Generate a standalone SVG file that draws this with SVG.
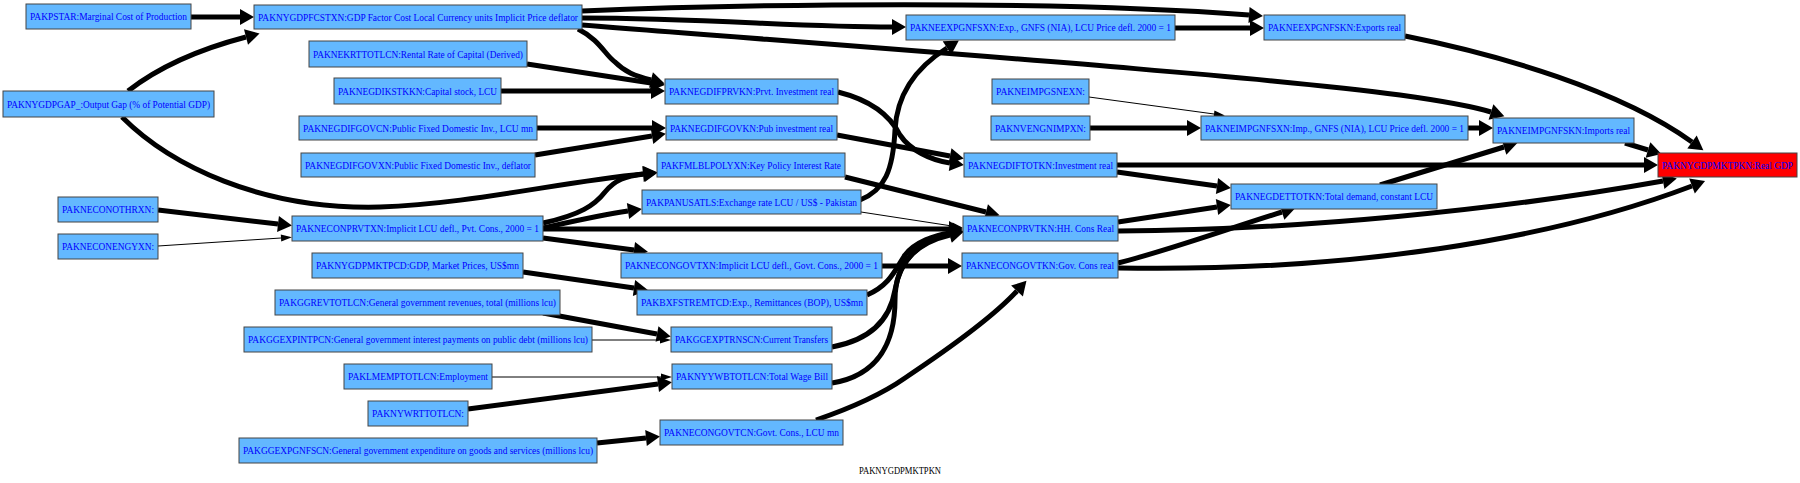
<svg xmlns="http://www.w3.org/2000/svg" width="1800" height="483" viewBox="0 0 1800 483">
<style>
.n rect{fill:#63b8ff;stroke:#444;stroke-width:1}
.r rect{fill:#ff0000;stroke:#444;stroke-width:1}
.n text,.r text{font-family:"Liberation Serif",serif;font-size:10px;fill:#0000ff;text-anchor:middle}
.e path{fill:none;stroke:#000}
.k{stroke-width:5;marker-end:url(#ak)}
.h{stroke-width:1;marker-end:url(#ah)}
.lbl{font-family:"Liberation Serif",serif;font-size:10px;fill:#000;text-anchor:middle}
</style>
<defs>
<marker id="ak" markerUnits="userSpaceOnUse" markerWidth="15" markerHeight="17" refX="0" refY="8" orient="auto" overflow="visible"><path d="M0,0 L14,8 L0,16 z" fill="#000"/></marker>
<marker id="ah" markerUnits="userSpaceOnUse" markerWidth="12" markerHeight="8" refX="0" refY="3.5" orient="auto" overflow="visible"><path d="M0,0 L11,3.5 L0,7 z" fill="#000"/></marker>
</defs>
<rect width="1800" height="483" fill="#fff"/>
<g id="edges" class="e">
<path class="k" d="M191,17 L240,17"/>
<path class="k" d="M128,91 C160,66 200,49 246,37"/>
<path class="k" d="M122,117 C170,165 260,210 380,207 C470,204 560,182 643,174"/>
<path class="k" d="M582,11 C750,4 1050,0 1249,15"/>
<path class="k" d="M582,18 C700,18 800,27 892,27"/>
<path class="k" d="M582,25 C900,50 1250,75 1400,95 C1450,102 1475,107 1491,112"/>
<path class="k" d="M578,29 C600,40 605,55 615,62 C625,72 635,76 651,80"/>
<path class="k" d="M527,64 L651,83"/>
<path class="k" d="M501,91 L651,91"/>
<path class="k" d="M537,128 L652,128"/>
<path class="k" d="M535,155 L652,136"/>
<path class="k" d="M838,92 C870,100 890,115 900,135 C910,150 930,160 950,163"/>
<path class="k" d="M837,135 L950,156"/>
<path class="k" d="M1117,165 L1644,165"/>
<path class="k" d="M1117,172 L1217,186"/>
<path class="k" d="M1175,28 L1250,28"/>
<path class="k" d="M1405,36 C1500,55 1620,90 1692,142"/>
<path class="h" d="M1089,97 L1214,114"/>
<path class="k" d="M1090,128 L1187,128"/>
<path class="k" d="M1468,128 L1479,128"/>
<path class="k" d="M1625,143 L1648,150"/>
<path class="k" d="M1380,185 L1504,147"/>
<path class="k" d="M158,210 L278,224"/>
<path class="h" d="M158,246 L281,238"/>
<path class="k" d="M543,223 C580,215 595,205 605,192 C615,180 625,176 644,174"/>
<path class="k" d="M543,228 C570,222 600,215 628,211"/>
<path class="k" d="M543,229 L949,229"/>
<path class="k" d="M543,238 L634,250"/>
<path class="k" d="M845,177 L986,212"/>
<path class="h" d="M861,212 L952,226"/>
<path class="k" d="M860,200 C885,190 893,170 895,130 C897,90 920,65 947,48"/>
<path class="k" d="M1118,222 L1217,207"/>
<path class="k" d="M1118,231 C1300,230 1500,210 1663,181"/>
<path class="k" d="M1118,263 C1170,250 1230,228 1282,212"/>
<path class="k" d="M1118,268 C1350,272 1550,240 1692,186"/>
<path class="k" d="M882,266 L948,266"/>
<path class="k" d="M523,272 L634,288"/>
<path class="k" d="M867,295 C890,285 895,270 905,255 C915,242 935,235 950,233"/>
<path class="k" d="M543,313 L657,334"/>
<path class="h" d="M592,340 L660,340"/>
<path class="k" d="M832,347 C870,340 890,320 895,290 C900,260 920,240 950,234"/>
<path class="h" d="M492,377 L661,377"/>
<path class="k" d="M468,409 L658,384"/>
<path class="k" d="M832,383 C880,375 895,340 895,300 C895,260 920,242 950,235"/>
<path class="k" d="M597,443 L646,438"/>
<path class="k" d="M816,420 C860,405 885,392 905,378 C950,348 995,315 1017,291"/>
</g>
<g id="PAKPSTAR" class="n"><rect x="26" y="4" width="165" height="25"/><text x="108.5" y="20" textLength="157" lengthAdjust="spacingAndGlyphs">PAKPSTAR:Marginal Cost of Production</text></g>
<g id="PAKNYGDPFCSTXN" class="n"><rect x="254" y="5" width="328" height="24"/><text x="418" y="20.5" textLength="320" lengthAdjust="spacingAndGlyphs">PAKNYGDPFCSTXN:GDP Factor Cost Local Currency units Implicit Price deflator</text></g>
<g id="PAKNEKRTTOTLCN" class="n"><rect x="309" y="41" width="218" height="26"/><text x="418" y="57.5" textLength="210" lengthAdjust="spacingAndGlyphs">PAKNEKRTTOTLCN:Rental Rate of Capital (Derived)</text></g>
<g id="PAKNEGDIKSTKKN" class="n"><rect x="334" y="78" width="167" height="26"/><text x="417.5" y="94.5" textLength="159" lengthAdjust="spacingAndGlyphs">PAKNEGDIKSTKKN:Capital stock, LCU</text></g>
<g id="PAKNYGDPGAP_" class="n"><rect x="3" y="91" width="211" height="26"/><text x="108.5" y="107.5" textLength="203" lengthAdjust="spacingAndGlyphs">PAKNYGDPGAP_:Output Gap (% of Potential GDP)</text></g>
<g id="PAKNEGDIFGOVCN" class="n"><rect x="299" y="116" width="238" height="24"/><text x="418" y="131.5" textLength="230" lengthAdjust="spacingAndGlyphs">PAKNEGDIFGOVCN:Public Fixed Domestic Inv., LCU mn</text></g>
<g id="PAKNEGDIFGOVXN" class="n"><rect x="301" y="153" width="234" height="24"/><text x="418" y="168.5" textLength="226" lengthAdjust="spacingAndGlyphs">PAKNEGDIFGOVXN:Public Fixed Domestic Inv., deflator</text></g>
<g id="PAKNECONOTHRXN" class="n"><rect x="58" y="197" width="100" height="25"/><text x="108" y="213" textLength="92" lengthAdjust="spacingAndGlyphs">PAKNECONOTHRXN:</text></g>
<g id="PAKNECONPRVTXN" class="n"><rect x="292" y="216" width="251" height="25"/><text x="417.5" y="232" textLength="243" lengthAdjust="spacingAndGlyphs">PAKNECONPRVTXN:Implicit LCU defl., Pvt. Cons., 2000 = 1</text></g>
<g id="PAKNECONENGYXN" class="n"><rect x="58" y="234" width="100" height="25"/><text x="108" y="250" textLength="92" lengthAdjust="spacingAndGlyphs">PAKNECONENGYXN:</text></g>
<g id="PAKNYGDPMKTPCD" class="n"><rect x="312" y="253" width="211" height="25"/><text x="417.5" y="269" textLength="203" lengthAdjust="spacingAndGlyphs">PAKNYGDPMKTPCD:GDP, Market Prices, US$mn</text></g>
<g id="PAKGGREVTOTLCN" class="n"><rect x="275" y="290" width="285" height="25"/><text x="417.5" y="306" textLength="277" lengthAdjust="spacingAndGlyphs">PAKGGREVTOTLCN:General government revenues, total (millions lcu)</text></g>
<g id="PAKGGEXPINTPCN" class="n"><rect x="244" y="327" width="348" height="25"/><text x="418" y="343" textLength="340" lengthAdjust="spacingAndGlyphs">PAKGGEXPINTPCN:General government interest payments on public debt (millions lcu)</text></g>
<g id="PAKLMEMPTOTLCN" class="n"><rect x="344" y="364" width="148" height="25"/><text x="418" y="380" textLength="140" lengthAdjust="spacingAndGlyphs">PAKLMEMPTOTLCN:Employment</text></g>
<g id="PAKNYWRTTOTLCN" class="n"><rect x="368" y="401" width="100" height="25"/><text x="418" y="417" textLength="92" lengthAdjust="spacingAndGlyphs">PAKNYWRTTOTLCN:</text></g>
<g id="PAKGGEXPGNFSCN" class="n"><rect x="239" y="438" width="358" height="25"/><text x="418" y="454" textLength="350" lengthAdjust="spacingAndGlyphs">PAKGGEXPGNFSCN:General government expenditure on goods and services (millions lcu)</text></g>
<g id="PAKNEEXPGNFSXN" class="n"><rect x="906" y="15" width="269" height="25"/><text x="1040.5" y="31" textLength="261" lengthAdjust="spacingAndGlyphs">PAKNEEXPGNFSXN:Exp., GNFS (NIA), LCU Price defl. 2000 = 1</text></g>
<g id="PAKNEGDIFPRVKN" class="n"><rect x="665" y="79" width="173" height="25"/><text x="751.5" y="95" textLength="165" lengthAdjust="spacingAndGlyphs">PAKNEGDIFPRVKN:Prvt. Investment real</text></g>
<g id="PAKNEIMPGSNEXN" class="n"><rect x="992" y="79" width="97" height="25"/><text x="1040.5" y="95" textLength="89" lengthAdjust="spacingAndGlyphs">PAKNEIMPGSNEXN:</text></g>
<g id="PAKNEGDIFGOVKN" class="n"><rect x="666" y="116" width="171" height="24"/><text x="751.5" y="131.5" textLength="163" lengthAdjust="spacingAndGlyphs">PAKNEGDIFGOVKN:Pub investment real</text></g>
<g id="PAKNVENGNIMPXN" class="n"><rect x="991" y="116" width="99" height="24"/><text x="1040.5" y="131.5" textLength="91" lengthAdjust="spacingAndGlyphs">PAKNVENGNIMPXN:</text></g>
<g id="PAKFMLBLPOLYXN" class="n"><rect x="657" y="153" width="188" height="24"/><text x="751" y="168.5" textLength="180" lengthAdjust="spacingAndGlyphs">PAKFMLBLPOLYXN:Key Policy Interest Rate</text></g>
<g id="PAKPANUSATLS" class="n"><rect x="642" y="190" width="219" height="24"/><text x="751.5" y="205.5" textLength="211" lengthAdjust="spacingAndGlyphs">PAKPANUSATLS:Exchange rate LCU / US$ - Pakistan</text></g>
<g id="PAKNEGDIFTOTKN" class="n"><rect x="964" y="153" width="153" height="24"/><text x="1040.5" y="168.5" textLength="145" lengthAdjust="spacingAndGlyphs">PAKNEGDIFTOTKN:Investment real</text></g>
<g id="PAKNECONPRVTKN" class="n"><rect x="963" y="216" width="155" height="25"/><text x="1040.5" y="232" textLength="147" lengthAdjust="spacingAndGlyphs">PAKNECONPRVTKN:HH. Cons Real</text></g>
<g id="PAKNECONGOVTXN" class="n"><rect x="621" y="253" width="261" height="25"/><text x="751.5" y="269" textLength="253" lengthAdjust="spacingAndGlyphs">PAKNECONGOVTXN:Implicit LCU defl., Govt. Cons., 2000 = 1</text></g>
<g id="PAKNECONGOVTKN" class="n"><rect x="962" y="253" width="156" height="25"/><text x="1040" y="269" textLength="148" lengthAdjust="spacingAndGlyphs">PAKNECONGOVTKN:Gov. Cons real</text></g>
<g id="PAKBXFSTREMTCD" class="n"><rect x="637" y="290" width="230" height="25"/><text x="752" y="306" textLength="222" lengthAdjust="spacingAndGlyphs">PAKBXFSTREMTCD:Exp., Remittances (BOP), US$mn</text></g>
<g id="PAKGGEXPTRNSCN" class="n"><rect x="671" y="327" width="161" height="25"/><text x="751.5" y="343" textLength="153" lengthAdjust="spacingAndGlyphs">PAKGGEXPTRNSCN:Current Transfers</text></g>
<g id="PAKNYYWBTOTLCN" class="n"><rect x="672" y="364" width="160" height="25"/><text x="752" y="380" textLength="152" lengthAdjust="spacingAndGlyphs">PAKNYYWBTOTLCN:Total Wage Bill</text></g>
<g id="PAKNECONGOVTCN" class="n"><rect x="660" y="420" width="183" height="25"/><text x="751.5" y="436" textLength="175" lengthAdjust="spacingAndGlyphs">PAKNECONGOVTCN:Govt. Cons., LCU mn</text></g>
<g id="PAKNEEXPGNFSKN" class="n"><rect x="1264" y="15" width="141" height="25"/><text x="1334.5" y="31" textLength="133" lengthAdjust="spacingAndGlyphs">PAKNEEXPGNFSKN:Exports real</text></g>
<g id="PAKNEIMPGNFSXN" class="n"><rect x="1201" y="116" width="267" height="24"/><text x="1334.5" y="131.5" textLength="259" lengthAdjust="spacingAndGlyphs">PAKNEIMPGNFSXN:Imp., GNFS (NIA), LCU Price defl. 2000 = 1</text></g>
<g id="PAKNEIMPGNFSKN" class="n"><rect x="1493" y="118" width="141" height="25"/><text x="1563.5" y="134" textLength="133" lengthAdjust="spacingAndGlyphs">PAKNEIMPGNFSKN:Imports real</text></g>
<g id="PAKNEGDETTOTKN" class="n"><rect x="1231" y="184" width="206" height="25"/><text x="1334" y="200" textLength="198" lengthAdjust="spacingAndGlyphs">PAKNEGDETTOTKN:Total demand, constant LCU</text></g>
<g id="PAKNYGDPMKTPKN" class="r"><rect x="1658" y="153" width="139" height="24"/><text x="1727.5" y="168.5" textLength="131" lengthAdjust="spacingAndGlyphs">PAKNYGDPMKTPKN:Real GDP</text></g>
<text class="lbl" x="900" y="474" textLength="82" lengthAdjust="spacingAndGlyphs">PAKNYGDPMKTPKN</text>
</svg>
